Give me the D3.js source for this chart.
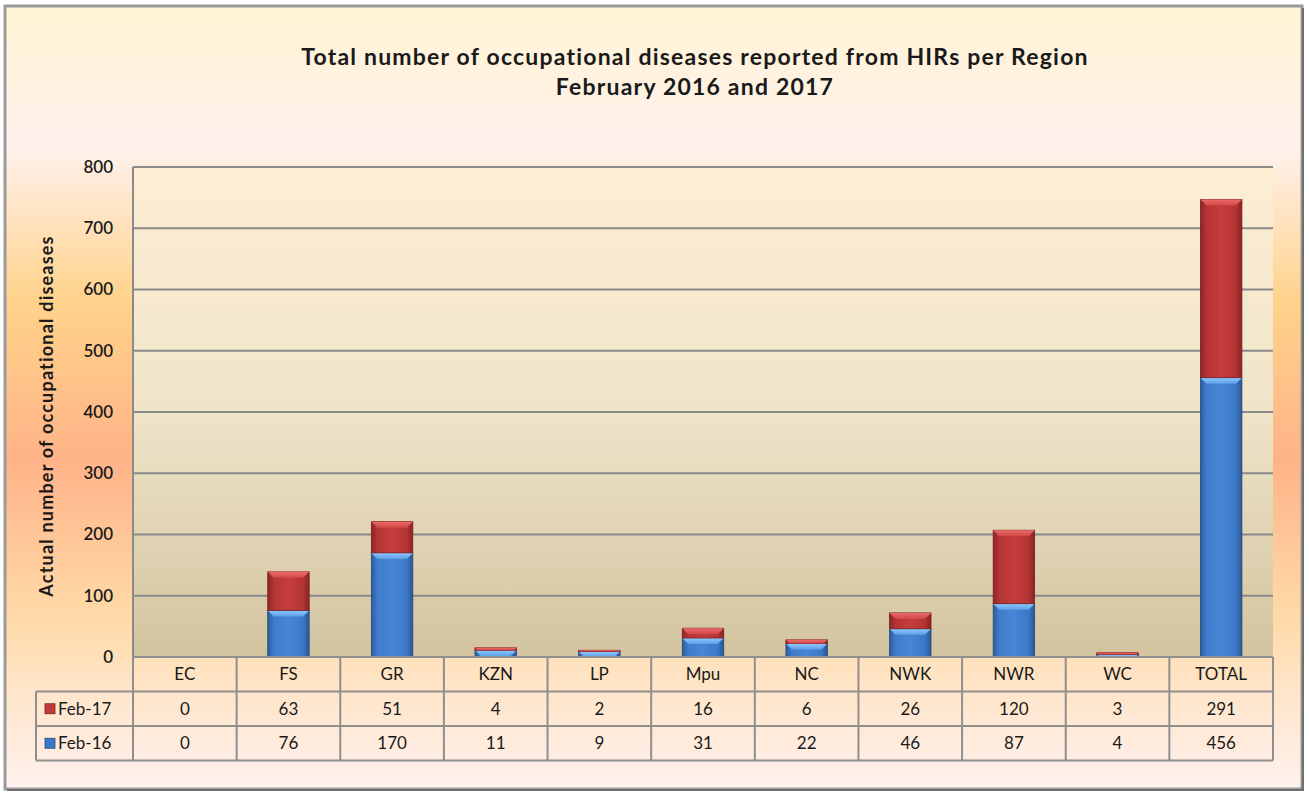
<!DOCTYPE html>
<html>
<head>
<meta charset="utf-8">
<script src="https://cdn.jsdelivr.net/npm/d3@7"></script>
<style>
  body { margin: 0; background: #fff; }
  text { font-family: Lato, "Open Sans", sans-serif; fill: #1a1a1a; }
</style>
</head>
<body>
<div id="chart"></div>
<script>
// data
var categories = ["EC", "FS", "GR", "KZN", "LP", "Mpu", "NC", "NWK", "NWR", "WC", "TOTAL"];
var feb16 = [0, 76, 170, 11, 9, 31, 22, 46, 87, 4, 456];
var feb17 = [0, 63, 51, 4, 2, 16, 6, 26, 120, 3, 291];
var seriesNames = ["Feb-16", "Feb-17"];
var yTicks = [0, 100, 200, 300, 400, 500, 600, 700, 800];
var titleLines = ["Total number of occupational diseases reported from HIRs per Region", "February 2016 and 2017"];

var width = 1309, height = 798;
var plot = {left: 133, right: 1273, top: 167, bottom: 657};
var rowH = 34.5;

var svg = d3.select("#chart").append("svg")
  .attr("width", width)
  .attr("height", height);

var defs = svg.append("defs");

// gradient helper
function grad(id, stops, vertical) {
  var g = defs.append("linearGradient").attr("id", id)
    .attr("x1", 0).attr("y1", 0)
    .attr("x2", vertical ? 0 : 1).attr("y2", vertical ? 1 : 0);
  stops.forEach(function(s) {
    g.append("stop").attr("offset", s[0]).attr("stop-color", s[1]);
  });
}

grad("bgGrad", [[0, "#fff4d4"], [0.18, "#fff1ec"], [0.38, "#ffd28a"], [0.58, "#ffb388"], [0.78, "#ffdaa8"], [0.88, "#ffe6cb"], [1, "#fff1ee"]], true);
grad("plotGrad", [[0, "#fdeed4"], [0.5, "#efe4c9"], [1, "#d3c4a0"]], true);
grad("blueBody", [[0, "#2c5d9c"], [0.15, "#3f7ccb"], [0.5, "#4786d6"], [0.85, "#3c78c6"], [1, "#2a5894"]], false);
grad("redBody", [[0, "#8e2424"], [0.15, "#b53535"], [0.5, "#c63d3d"], [0.85, "#b33434"], [1, "#8a2323"]], false);
grad("blueTop", [[0, "#8cc8ff"], [1, "#5e9fe6"]], true);
grad("redTop", [[0, "#ec6a6a"], [1, "#d24848"]], true);

var colors = {
  "Feb-16": {body: "url(#blueBody)", top: "url(#blueTop)", edge: "#24497a", swatch: "#3a78c8"},
  "Feb-17": {body: "url(#redBody)", top: "url(#redTop)", edge: "#7a1f1f", swatch: "#c23a3a"}
};

// outer frame
svg.append("rect")
  .attr("x", 5).attr("y", 6)
  .attr("width", 1297).attr("height", 783)
  .attr("fill", "url(#bgGrad)")
  .attr("stroke", "#9a9a9a")
  .attr("stroke-width", 3);
svg.append("path")
  .attr("d", "M1303,8 V790 H7")
  .attr("fill", "none")
  .attr("stroke", "#6f6f6f")
  .attr("stroke-width", 2);

// plot area
svg.append("rect")
  .attr("x", plot.left).attr("y", plot.top)
  .attr("width", plot.right - plot.left).attr("height", plot.bottom - plot.top)
  .attr("fill", "url(#plotGrad)");

// scales
var x = d3.scaleBand()
  .domain(categories)
  .range([plot.left, plot.right])
  .padding(0);

var y = d3.scaleLinear()
  .domain([0, 800])
  .range([plot.bottom, plot.top]);

// gridlines
svg.append("g")
  .selectAll("line")
  .data(yTicks)
  .enter().append("line")
  .attr("x1", plot.left).attr("x2", plot.right)
  .attr("y1", function(d) { return y(d); })
  .attr("y2", function(d) { return y(d); })
  .attr("stroke", "#8a8a8a")
  .attr("stroke-width", 2);

svg.append("line")
  .attr("x1", plot.left).attr("x2", plot.left)
  .attr("y1", plot.top).attr("y2", plot.bottom)
  .attr("stroke", "#8a8a8a").attr("stroke-width", 2);

// y axis labels
var yAxis = svg.append("g")
  .attr("transform", "translate(" + (plot.left - 20) + ",0)")
  .call(d3.axisLeft(y).tickValues(yTicks).tickSize(0).tickPadding(0));
yAxis.select(".domain").remove();
yAxis.selectAll("text")
  .style("font-family", "Lato, sans-serif")
  .style("font-size", "17px")
  .style("font-weight", "600")
  .attr("fill", "#222");

// stacked bars
var rows = categories.map(function(c, i) {
  return {cat: c, "Feb-16": feb16[i], "Feb-17": feb17[i]};
});
var stack = d3.stack().keys(seriesNames)(rows);

var barW = x.bandwidth() / 2.5;
var bevel = 6;

stack.forEach(function(layer) {
  var c = colors[layer.key];
  var g = svg.append("g");
  layer.forEach(function(d) {
    var v = d[1] - d[0];
    if (v <= 0) return;
    var x0 = x(d.data.cat) + (x.bandwidth() - barW) / 2;
    var y0 = y(d[1]);
    var h = y(d[0]) - y(d[1]);
    var b = Math.min(bevel, h);
    g.append("rect")
      .attr("x", x0).attr("y", y0)
      .attr("width", barW).attr("height", h)
      .attr("fill", c.body)
      .attr("stroke", c.edge)
      .attr("stroke-width", 0.8);
    g.append("path")
      .attr("d", "M" + x0 + "," + y0 + " H" + (x0 + barW) +
        " L" + (x0 + barW - b) + "," + (y0 + b) +
        " H" + (x0 + b) + " Z")
      .attr("fill", c.top);
  });
});

// data table
var table = svg.append("g");
var rowY = [plot.bottom, plot.bottom + rowH, plot.bottom + 2 * rowH, plot.bottom + 3 * rowH];
var legendLeft = 36;
var lineCol = "#8f8f8f";

// horizontal lines
table.append("line")
  .attr("x1", plot.left).attr("x2", plot.right)
  .attr("y1", rowY[0]).attr("y2", rowY[0])
  .attr("stroke", lineCol).attr("stroke-width", 2);
[1, 2, 3].forEach(function(r) {
  table.append("line")
    .attr("x1", legendLeft).attr("x2", plot.right)
    .attr("y1", rowY[r]).attr("y2", rowY[r])
    .attr("stroke", lineCol).attr("stroke-width", 2);
});
// vertical lines
categories.forEach(function(c) {
  table.append("line")
    .attr("x1", x(c)).attr("x2", x(c))
    .attr("y1", rowY[0]).attr("y2", rowY[3])
    .attr("stroke", lineCol).attr("stroke-width", 2);
});
table.append("line")
  .attr("x1", plot.right).attr("x2", plot.right)
  .attr("y1", rowY[0]).attr("y2", rowY[3])
  .attr("stroke", lineCol).attr("stroke-width", 2);
table.append("line")
  .attr("x1", legendLeft).attr("x2", legendLeft)
  .attr("y1", rowY[1]).attr("y2", rowY[3])
  .attr("stroke", lineCol).attr("stroke-width", 2);

// header labels
table.selectAll(".cat")
  .data(categories)
  .enter().append("text")
  .attr("class", "cat")
  .attr("x", function(d) { return x(d) + x.bandwidth() / 2; })
  .attr("y", rowY[0] + rowH / 2)
  .attr("dy", "0.36em")
  .attr("text-anchor", "middle")
  .style("font-size", "17px")
  .text(function(d) { return d; });

// value rows: Feb-17 then Feb-16
var tableRows = [{name: "Feb-17", values: feb17}, {name: "Feb-16", values: feb16}];
tableRows.forEach(function(r, i) {
  var cy = rowY[i + 1] + rowH / 2;
  table.selectAll(".v" + i)
    .data(r.values)
    .enter().append("text")
    .attr("x", function(d, j) { return x(categories[j]) + x.bandwidth() / 2; })
    .attr("y", cy)
    .attr("dy", "0.36em")
    .attr("text-anchor", "middle")
    .style("font-size", "17px")
    .text(function(d) { return d; });
  table.append("rect")
    .attr("x", legendLeft + 9).attr("y", cy - 5)
    .attr("width", 10).attr("height", 10)
    .attr("fill", colors[r.name].swatch)
    .attr("stroke", colors[r.name].edge)
    .attr("stroke-width", 0.8);
  table.append("text")
    .attr("x", legendLeft + 22)
    .attr("y", cy)
    .attr("dy", "0.36em")
    .style("font-size", "17px")
    .text(r.name);
});

// title
svg.append("g").selectAll("text")
  .data(titleLines)
  .enter().append("text")
  .attr("x", 695)
  .attr("y", function(d, i) { return 65 + i * 30; })
  .attr("text-anchor", "middle")
  .style("font-size", "23px")
  .style("font-weight", "bold")
  .style("letter-spacing", "1.2px")
  .text(function(d) { return d; });

// y axis title
svg.append("text")
  .attr("transform", "translate(53," + ((plot.top + plot.bottom) / 2 + 4) + ") rotate(-90)")
  .attr("text-anchor", "middle")
  .style("font-size", "18px")
  .style("font-weight", "bold")
  .style("letter-spacing", "1.2px")
  .text("Actual number of occupational  diseases");
</script>
</body>
</html>
